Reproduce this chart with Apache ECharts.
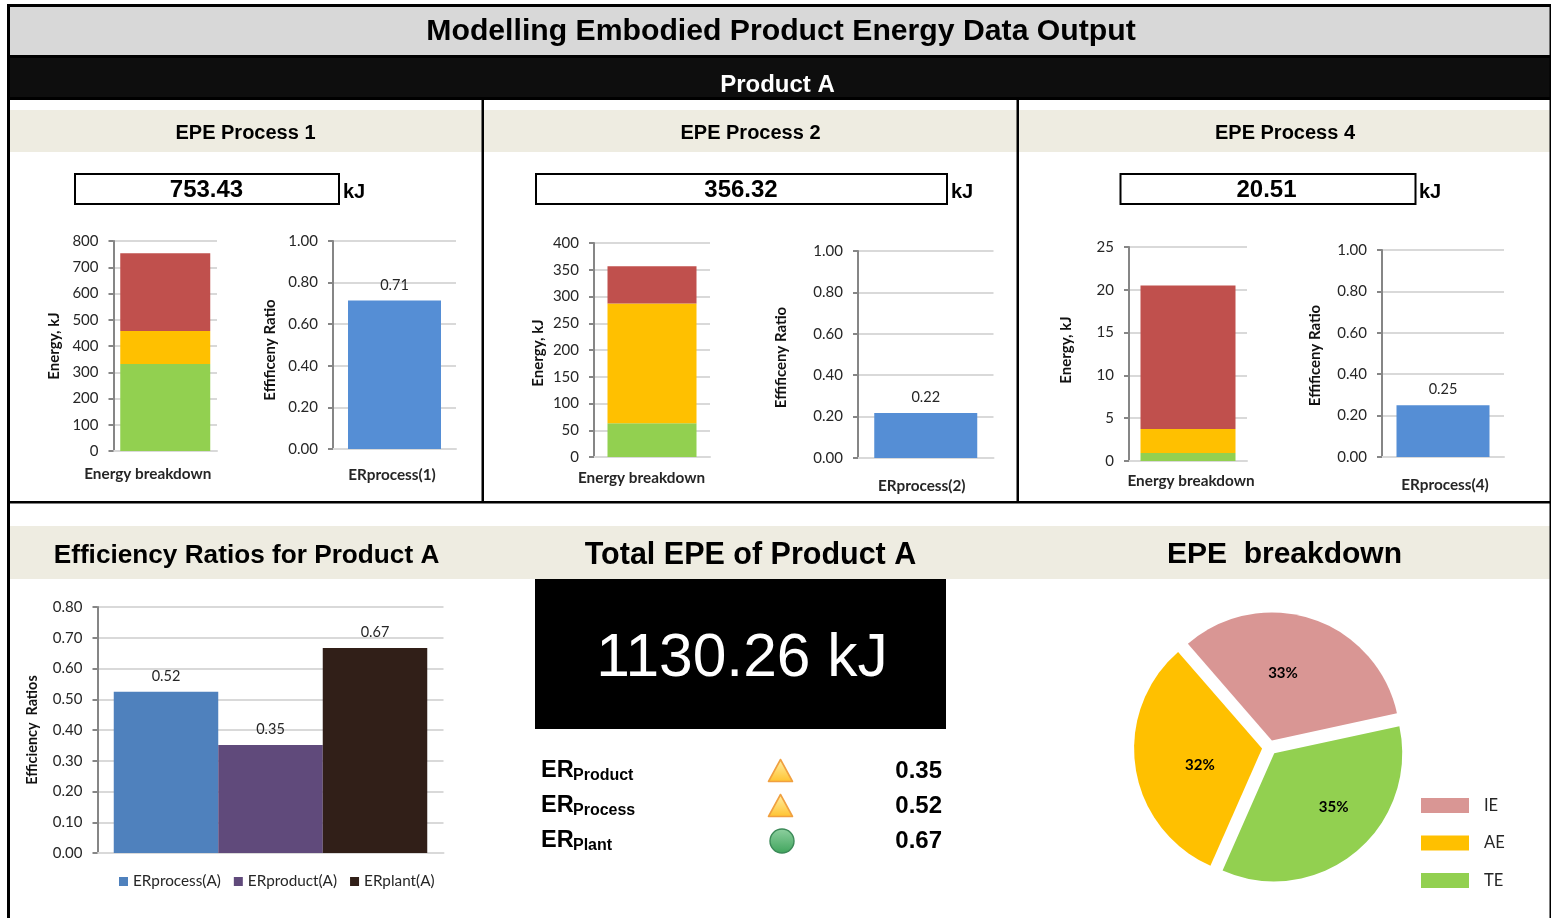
<!DOCTYPE html>
<html>
<head>
<meta charset="utf-8">
<style>html,body{margin:0;padding:0;background:#fff;overflow:hidden}#c{width:1551px;height:918px}</style>
<script src="https://cdn.jsdelivr.net/npm/echarts@6/dist/echarts.min.js"></script>
</head>
<body>
<div id="c"></div>
<script>
// ---------- data ----------
const processNames = ['EPE Process 1', 'EPE Process 2', 'EPE Process 4'];
const processTotals = ['753.43', '356.32', '20.51'];
const breakdownCategory = ['Energy breakdown'];
const teValues = [331, 63, 0.93];
const aeValues = [126, 224, 2.8];
const ieValues = [296.43, 69.32, 16.78];
const energyMax = [800, 400, 25];
const energyStep = [100, 50, 5];
const ratioCategories = ['ERprocess(1)', 'ERprocess(2)', 'ERprocess(4)'];
const ratioValues = [0.714, 0.217, 0.25];
const productSeries = ['ERprocess(A)', 'ERproduct(A)', 'ERplant(A)'];
const productValues = [0.524, 0.351, 0.667];
const pieNames = ['IE', 'TE', 'AE'];
const pieValues = [33, 35, 32];
const legendOrder = ['IE', 'AE', 'TE'];
const totalText = '1130.26 kJ';
const erNames = ['Product', 'Process', 'Plant'];
const erValues = ['0.35', '0.52', '0.67'];
const erIcons = ['triangle', 'triangle', 'circle'];

// ---------- layout & style ----------
const LATO = 'Lato, Carlito, sans-serif';
const ARIAL = '"Liberation Sans", Arial, sans-serif';
const C = {te:'#92D050', ae:'#FFC000', ie:'#C0504D', ieLight:'#D99694', bar:'#558ED5',
  grid:'#D9D9D9', axis:'#868686', text:'#262626', p1:'#4F81BD', p2:'#604A7B', p3:'#311F18'};

const stackGrids = [
  {left:113.5, right:217, top:241, bottom:451, barW:90, nameGap:52, nameShift:0, catShift:-17.5, catMargin:23},
  {left:594, right:710, top:243, bottom:457, barW:89, nameGap:48, nameShift:3, catShift:-10.5, catMargin:21},
  {left:1129, right:1247, top:247, bottom:461, barW:95, nameGap:55, nameShift:-4, catShift:3, catMargin:20}
];
const ratioGrids = [
  {left:333, right:456, top:241, bottom:449, barW:93, nameGap:55, nameShift:5, catShift:-2.5, catMargin:26},
  {left:858, right:993.5, top:251, bottom:458, barW:103, nameGap:69, nameShift:3, catShift:-4, catMargin:28},
  {left:1382, right:1504, top:250, bottom:457, barW:93, nameGap:59, nameShift:2, catShift:2, catMargin:28}
];
const productGrid = {left:97.5, right:443.5, top:607, bottom:853, nameGap:58, nameFont:14.4};

const grids = [], xAxes = [], yAxes = [], series = [];

function addAxes(g, cats, yMax, yStep, yName, decimals, catShift, catMargin, nameShift) {
  const idx = grids.length;
  grids.push({left:g.left, top:g.top, width:g.right - g.left, height:g.bottom - g.top});
  const pad = catShift < 0 ? [0, -2 * catShift, 0, 0] : [0, 0, 0, 2 * catShift];
  xAxes.push({
    gridIndex: idx, type:'category', data:cats,
    axisLine:{show:true, lineStyle:{color:C.grid, width:2}}, axisTick:{show:false},
    axisLabel: catMargin ? {show:true, margin:catMargin, verticalAlign:'middle', padding:pad,
      fontFamily:LATO, fontWeight:'bold', fontSize:15.3, color:C.text} : {show:false}
  });
  yAxes.push({
    gridIndex: idx, type:'value', min:0, max:yMax, interval:yStep,
    name:yName, nameLocation:'middle', nameGap:g.nameGap, nameRotate:90,
    nameTextStyle:{fontFamily:LATO, fontWeight:'bold', fontSize:g.nameFont || 15, color:'#111',
      padding: nameShift ? (nameShift > 0 ? [0, 2 * nameShift, 0, 0] : [0, 0, 0, -2 * nameShift]) : 0},
    axisLine:{show:true, lineStyle:{color:C.axis, width:2}},
    axisTick:{show:true, length:5, lineStyle:{color:C.axis, width:2}},
    axisLabel:{margin:15, fontFamily:LATO, fontSize:15, color:C.text, padding:[4, 0, 0, 0],
      formatter:v => v.toFixed(decimals)},
    splitLine:{show:true, lineStyle:{color:C.grid, width:2}}
  });
  return idx;
}
const valueLabel = {show:true, position:'top', distance:8, fontFamily:LATO, fontSize:14.5, color:C.text,
  formatter:p => p.value.toFixed(2)};

// pie first
series.push({
  type:'pie', name:'EPE breakdown', center:[1269.5, 747.5], radius:128, startAngle:131,
  selectedMode:'multiple', selectedOffset:7.5, silent:true, animation:false,
  data: pieNames.map((n, i) => ({name:n, value:pieValues[i], selected:true,
    itemStyle:{color:{IE:C.ieLight, AE:C.ae, TE:C.te}[n]}})),
  label:{show:true, position:'inner', formatter:p => p.value + '%',
    fontFamily:LATO, fontWeight:'bold', fontSize:15, color:'#000'},
  labelLine:{show:false},
  labelLayout: p => ({dx:[-10, 17, 4][p.dataIndex], dy:[-4, 2, 7][p.dataIndex]})
});

processNames.forEach((_, i) => {
  const g = stackGrids[i];
  const idx = addAxes(g, breakdownCategory, energyMax[i], energyStep[i], 'Energy, kJ', 0, g.catShift, g.catMargin, g.nameShift);
  [['TE energy', teValues, C.te], ['AE energy', aeValues, C.ae], ['IE energy', ieValues, C.ie]].forEach(s => {
    series.push({type:'bar', name:s[0] + ' ' + i, xAxisIndex:idx, yAxisIndex:idx, stack:'e' + i,
      barWidth:g.barW, data:[s[1][i]], itemStyle:{color:s[2]}, silent:true, animation:false});
  });
  const r = ratioGrids[i];
  const idr = addAxes(r, [ratioCategories[i]], 1, 0.2, 'Effificeny Ratio', 2, r.catShift, r.catMargin, r.nameShift);
  series.push({type:'bar', name:ratioCategories[i], xAxisIndex:idr, yAxisIndex:idr, barWidth:r.barW,
    data:[ratioValues[i]], itemStyle:{color:C.bar}, label:valueLabel, silent:true, animation:false});
});

const pIdx = addAxes(productGrid, ['Product A'], 0.8, 0.1, 'Efficiency  Ratios', 2, 0, 0, 0);
[C.p1, C.p2, C.p3].forEach((col, i) => {
  series.push({type:'bar', name:productSeries[i], xAxisIndex:pIdx, yAxisIndex:pIdx,
    barWidth:104.5, barGap:'0%', data:[productValues[i]], itemStyle:{color:col},
    label:valueLabel, silent:true, animation:false});
});

// ---------- frame & text ----------
const rect = (x, y, w, h, fill, z) => ({type:'rect', shape:{x, y, width:w, height:h}, style:{fill}, z:z || 0, silent:true});
const txt = (x, y, t, size, opt) => ({type:'text', x, y, z:5, silent:true, style:Object.assign({
  text:t, fontFamily:ARIAL, fontWeight:'bold', fontSize:size, fill:'#000', align:'center', verticalAlign:'middle'}, opt || {})});
const box = (x, y, w, h) => ({type:'rect', shape:{x:x + 1, y:y + 1, width:w - 2, height:h - 2},
  style:{fill:'#fff', stroke:'#000', lineWidth:2}, z:2, silent:true});

const gfx = [
  rect(10, 7, 1541, 48, '#D8D8D8'),
  rect(7, 55, 1544, 45, '#000'),
  rect(10, 58, 1541, 39, '#0E0E0E', 1),
  rect(10, 110, 1540, 42, '#EEECE1'),
  rect(10, 526, 1540, 53, '#EEECE1'),
  rect(7, 4, 1544, 3, '#000', 3),
  rect(7, 4, 3, 914, '#000', 3),
  rect(1549.5, 4, 1.5, 914, '#000', 3),
  rect(481.5, 100, 2.5, 402, '#000', 3),
  rect(1016.5, 100, 2.5, 402, '#000', 3),
  rect(7, 501, 1544, 2.5, '#000', 3),
  txt(781, 32, 'Modelling Embodied Product Energy Data Output', 30.2),
  txt(777.5, 85, 'Product A', 24, {fill:'#fff'}),
  rect(535, 579, 411, 150, '#000', 1),
  txt(742, 659, totalText, 60.5, {fill:'#fff', fontWeight:'normal'}),
  txt(246.5, 556, 'Efficiency Ratios for Product A', 26.2),
  txt(750.5, 556, 'Total EPE of Product A', 30.5),
  txt(1284.5, 555, 'EPE  breakdown', 30)
];
const headX = [245.5, 750.5, 1285];
const boxes = [[74, 173, 266], [535, 173, 413], [1119.5, 173, 297]];
const valX = [206.5, 741, 1266.5];
const kjX = [343, 951, 1419];
processNames.forEach((n, i) => {
  gfx.push(txt(headX[i], 133, n, 20));
  gfx.push(box(boxes[i][0], boxes[i][1], boxes[i][2], 32));
  gfx.push(txt(valX[i], 190, processTotals[i], 24));
  gfx.push(txt(kjX[i], 192, 'kJ', 20, {align:'left'}));
});
const triGrad = {type:'linear', x:0, y:0, x2:0, y2:1, colorStops:[{offset:0, color:'#FFF0A8'}, {offset:1, color:'#FFC22E'}]};
const cirGrad = {type:'linear', x:0, y:0, x2:0, y2:1, colorStops:[{offset:0, color:'#8FD0A0'}, {offset:1, color:'#3FA45C'}]};
erNames.forEach((n, i) => {
  const y = 770 + 35 * i;
  gfx.push(txt(541, y + 1, 'ER', 23.5, {align:'left'}));
  gfx.push(txt(573, y + 6, n, 16, {align:'left'}));
  gfx.push(txt(942, y + 1, erValues[i], 24, {align:'right'}));
  if (erIcons[i] === 'triangle') {
    gfx.push({type:'polygon', z:5, silent:true,
      shape:{points:[[780.5, y - 10.5], [792.5, y + 11.5], [768.5, y + 11.5]]},
      style:{fill:triGrad, stroke:'#F0A040', lineWidth:1.6, lineJoin:'round'}});
  } else {
    gfx.push({type:'circle', z:5, silent:true, shape:{cx:782, cy:y + 1, r:12},
      style:{fill:cirGrad, stroke:'#3C8A58', lineWidth:1.4}});
  }
});

const option = {
  backgroundColor:'#fff', animation:false,
  grid:grids, xAxis:xAxes, yAxis:yAxes, series, graphic:{elements:gfx},
  legend:[
    {data:productSeries, left:119, top:874, padding:0, icon:'rect', itemWidth:9, itemHeight:9, itemGap:13, selectedMode:false,
      textStyle:{fontFamily:LATO, fontSize:15.3, color:C.text}},
    {data:legendOrder, orient:'vertical', left:1421, top:797, padding:0, icon:'rect', itemWidth:48, itemHeight:15, itemGap:20.5,
      selectedMode:false, textStyle:{fontFamily:LATO, fontSize:16.5, color:C.text, padding:[0, 0, 0, 10]}}
  ]
};
const chart = echarts.init(document.getElementById('c'), null, {renderer:'canvas'});
chart.setOption(option);
</script>
</body>
</html>
